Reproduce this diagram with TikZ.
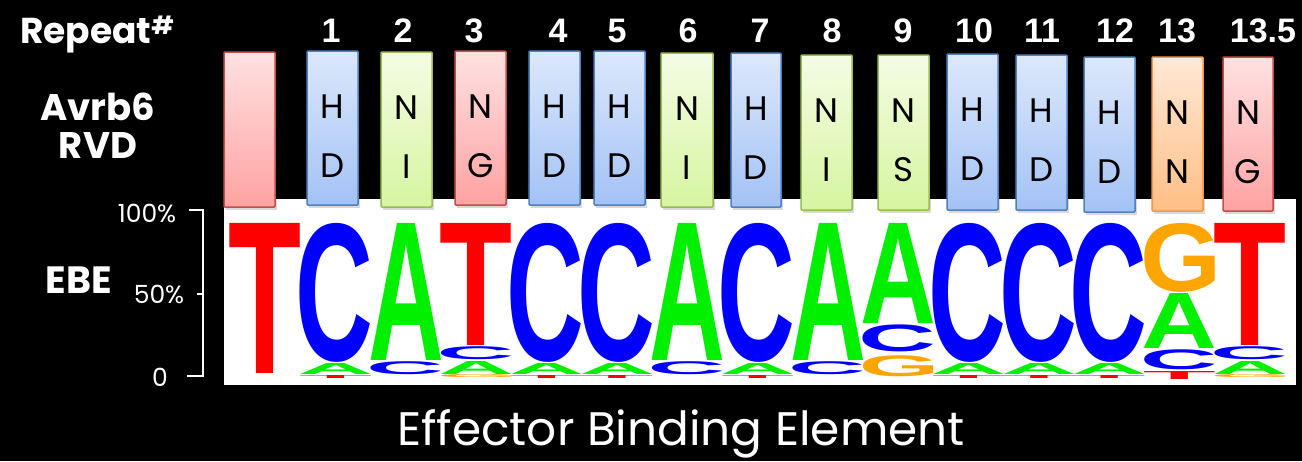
\documentclass[tikz,border=0pt]{standalone}
\usepackage{fontspec}
\usepackage{graphicx}
\setmainfont{Poppins}
\newfontfamily\numfont{Liberation Sans}[Scale=1]
\newfontfamily\logofont{Liberation Sans Bold}
\definecolor{lred}{HTML}{FF0000}
\definecolor{lblue}{HTML}{0000FF}
\definecolor{lgreen}{HTML}{00F000}
\definecolor{lorange}{HTML}{FFA500}
\tikzset{
  boxline/.style={line width=1.5pt, rounded corners=1pt},
  blueb/.style={top color={rgb,255:red,220;green,232;blue,251}, bottom color={rgb,255:red,163;green,194;blue,245}, draw={rgb,255:red,79;green,129;blue,189}},
  greenb/.style={top color={rgb,255:red,244;green,252;blue,228}, bottom color={rgb,255:red,214;green,245;blue,160}, draw={rgb,255:red,155;green,187;blue,89}},
  redb/.style={top color={rgb,255:red,255;green,225;blue,225}, bottom color={rgb,255:red,255;green,162;blue,162}, draw={rgb,255:red,192;green,80;blue,77}},
  orangeb/.style={top color={rgb,255:red,255;green,233;blue,214}, bottom color={rgb,255:red,255;green,190;blue,133}, draw={rgb,255:red,247;green,150;blue,70}},
  shadowc/.style={fill=black, opacity=0.15},
  rvdtxt/.style={text=black, anchor=base, inner sep=0pt, font=\fontsize{34}{34}\selectfont},
  numtxt/.style={text=white, anchor=base, inner sep=0pt, font=\numfont\bfseries\fontsize{34}{34}\selectfont},
  wtxt/.style={text=white, anchor=base, inner sep=0pt},
  axisline/.style={white, line width=1.5pt}
}
\def\tg#1{\kern-\XeTeXglyphbounds1 \XeTeXcharglyph`#1 #1\kern-\XeTeXglyphbounds3 \XeTeXcharglyph`#1 }
% rvd box: name, x0, x1, ytop, ybot, style, top letter, bottom letter
\newcommand\rvdbox[8]{%
  \fill[shadowc] ({#2+1.5},{#4+3}) rectangle ({#3+1.5},{#5+3});
  \draw[boxline,#6] (#2,#4) rectangle (#3,#5);
  \node[rvdtxt] (#1t) at ({(#2+#3)/2},{#4+67}) {#7};
  \node[rvdtxt] (#1b) at ({(#2+#3)/2},{#4+126}) {#8};
}
% logo letter: name, column, ytop, ybot, colour, letter
\newcommand\logolet[6]{%
  \node[inner sep=0pt, outer sep=0pt, anchor=south west, text=#5] (#1) at ({230+70.33*#2},#4)
    {\resizebox*{70.33pt}{\dimexpr #4pt-#3pt\relax}{\logofont\tg{#6}}};
}
\begin{document}
\begin{tikzpicture}[x=1pt,y=-1pt]
\useasboundingbox (0,0) rectangle (1302,461);
\fill[black] (0,0) rectangle (1302,461);
\fill[white] (224,199) rectangle (1296,385);
% boxes
\fill[shadowc] (225.5,55) rectangle (276.5,210);
\draw[boxline,redb] (224,52) rectangle (275,207);
\coordinate (b0) at (249.5,52);
\rvdbox{b1}{307}{358}{51}{205}{blueb}{H}{D}
\rvdbox{b2}{381}{432}{52}{207}{greenb}{N}{I}
\rvdbox{b3}{455}{506}{51}{205}{redb}{N}{G}
\rvdbox{b4}{529}{580}{51}{205}{blueb}{H}{D}
\rvdbox{b5}{594}{645}{51}{205}{blueb}{H}{D}
\rvdbox{b6}{661}{713}{53}{207}{greenb}{N}{I}
\rvdbox{b7}{731}{781}{53}{207}{blueb}{H}{D}
\rvdbox{b8}{801}{852}{55}{210}{greenb}{N}{I}
\rvdbox{b9}{878}{929}{55}{210}{greenb}{N}{S}
\rvdbox{b10}{947}{998}{54}{210}{blueb}{H}{D}
\rvdbox{b11}{1016}{1067}{55}{210}{blueb}{H}{D}
\rvdbox{b12}{1084}{1135}{57}{212}{blueb}{H}{D}
\rvdbox{b13}{1152}{1203}{57}{211}{orangeb}{N}{N}
\rvdbox{b14}{1223}{1273}{57}{211}{redb}{N}{G}
% numbers
\node[numtxt] (n1) at (331,42) {1};
\node[numtxt] (n2) at (403,42) {2};
\node[numtxt] (n3) at (474,42) {3};
\node[numtxt] (n4) at (558,42) {4};
\node[numtxt] (n5) at (617,42) {5};
\node[numtxt] (n6) at (688,42) {6};
\node[numtxt] (n7) at (760,42) {7};
\node[numtxt] (n8) at (832,42) {8};
\node[numtxt] (n9) at (903,42) {9};
\node[numtxt] (n10) at (974,42) {10};
\node[numtxt] (n11) at (1042,42) {11};
\node[numtxt] (n12) at (1115,42) {12};
\node[numtxt] (n13) at (1177,42) {13};
\node[numtxt] (n135) at (1263,42) {13.5};
% left labels
\node[wtxt, font=\bfseries\fontsize{36}{36}\selectfont] (rep) at (97,43) {Repeat\raisebox{9pt}{\fontsize{25}{25}\selectfont\#}};
\node[wtxt, font=\bfseries\fontsize{37}{37}\selectfont] (avr) at (98,120) {Avrb6};
\node[wtxt, font=\bfseries\fontsize{37}{37}\selectfont] (rvdl) at (98,158) {RVD};
\node[wtxt, font=\bfseries\fontsize{38}{38}\selectfont] (ebe) at (79,293) {EBE};
\node[wtxt, font=\fontsize{25}{25}\selectfont] (p100) at (147,222) {100\%};
\node[wtxt, font=\fontsize{25}{25}\selectfont] (p50) at (159,303) {50\%};
\node[wtxt, font=\fontsize{25}{25}\selectfont] (p0) at (160,386) {0};
% axis
\coordinate (at) at (203,210);
\coordinate (am) at (203,294);
\coordinate (ab) at (203,376);
\coordinate (atl) at (189,210);
\coordinate (aml) at (197,294);
\coordinate (abl) at (187,376);
\draw[axisline] (atl) -- (at) -- (ab) -- (abl);
\draw[axisline] (am) -- (aml);
% logo
\logolet{c0T}{0}{223}{373}{lred}{T}
\logolet{c1C}{1}{223}{362}{lblue}{C}
\logolet{c1A}{1}{363}{374}{lgreen}{A}
\logolet{c1T}{1}{375}{378}{lred}{T}
\logolet{c2A}{2}{223}{360}{lgreen}{A}
\logolet{c2C}{2}{362}{375}{lblue}{C}
\logolet{c3T}{3}{223}{345}{lred}{T}
\logolet{c3C}{3}{347}{360}{lblue}{C}
\logolet{c3A}{3}{361}{374}{lgreen}{A}
\logolet{c3G}{3}{375}{378}{lorange}{G}
\logolet{c4C}{4}{223}{362}{lblue}{C}
\logolet{c4A}{4}{363}{374}{lgreen}{A}
\logolet{c4T}{4}{375}{378}{lred}{T}
\logolet{c5C}{5}{223}{362}{lblue}{C}
\logolet{c5A}{5}{363}{374}{lgreen}{A}
\logolet{c5T}{5}{375}{378}{lred}{T}
\logolet{c6A}{6}{223}{360}{lgreen}{A}
\logolet{c6C}{6}{362}{375}{lblue}{C}
\logolet{c7C}{7}{223}{362}{lblue}{C}
\logolet{c7A}{7}{363}{374}{lgreen}{A}
\logolet{c7T}{7}{375}{378}{lred}{T}
\logolet{c8A}{8}{223}{360}{lgreen}{A}
\logolet{c8C}{8}{362}{375}{lblue}{C}
\logolet{c9A}{9}{223}{323}{lgreen}{A}
\logolet{c9C}{9}{325}{352}{lblue}{C}
\logolet{c9G}{9}{356}{377}{lorange}{G}
\logolet{c10C}{10}{223}{362}{lblue}{C}
\logolet{c10A}{10}{363}{374}{lgreen}{A}
\logolet{c10T}{10}{375}{378}{lred}{T}
\logolet{c11C}{11}{223}{362}{lblue}{C}
\logolet{c11A}{11}{363}{374}{lgreen}{A}
\logolet{c11T}{11}{375}{378}{lred}{T}
\logolet{c12C}{12}{223}{362}{lblue}{C}
\logolet{c12A}{12}{363}{374}{lgreen}{A}
\logolet{c12T}{12}{375}{378}{lred}{T}
\logolet{c13G}{13}{223}{292}{lorange}{G}
\logolet{c13A}{13}{293}{348}{lgreen}{A}
\logolet{c13C}{13}{350}{370}{lblue}{C}
\logolet{c13T}{13}{371}{379}{lred}{T}
\logolet{c14T}{14}{223}{345}{lred}{T}
\logolet{c14C}{14}{347}{360}{lblue}{C}
\logolet{c14A}{14}{361}{374}{lgreen}{A}
\logolet{c14G}{14}{375}{378}{lorange}{G}
% caption
\node[wtxt, font=\fontsize{47}{47}\selectfont] (cap) at (681,445) {Effector Binding Element};
\end{tikzpicture}
\end{document}
